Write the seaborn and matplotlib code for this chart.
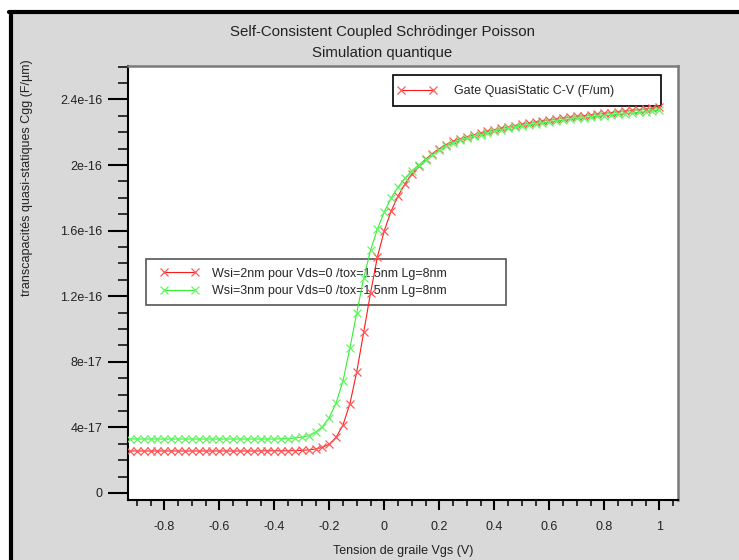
import numpy as np
import pandas as pd
import matplotlib
matplotlib.use("Agg")
import matplotlib.pyplot as plt
from matplotlib.patches import Rectangle
from matplotlib.lines import Line2D
from matplotlib.ticker import FixedLocator, FixedFormatter, MultipleLocator
import seaborn as sns

# Gate voltage sweep (V)
vgs = [-0.925, -0.9, -0.875, -0.85, -0.825, -0.8, -0.775, -0.75, -0.725, -0.7,
       -0.675, -0.65, -0.625, -0.6, -0.575, -0.55, -0.525, -0.5, -0.475, -0.45,
       -0.425, -0.4, -0.375, -0.35, -0.325, -0.3, -0.275, -0.25, -0.225, -0.2,
       -0.175, -0.15, -0.125, -0.1, -0.075, -0.05, -0.025, 0.0, 0.025, 0.05,
       0.075, 0.1, 0.125, 0.15, 0.175, 0.2, 0.225, 0.25, 0.275, 0.3,
       0.325, 0.35, 0.375, 0.4, 0.425, 0.45, 0.475, 0.5, 0.525, 0.55,
       0.575, 0.6, 0.625, 0.65, 0.675, 0.7, 0.725, 0.75, 0.775, 0.8,
       0.825, 0.85, 0.875, 0.9, 0.925, 0.95, 0.975, 1.0]

# Quasi-static gate capacitance Cgg, in units of 1e-17 F/um
cgg_wsi2 = [2.56, 2.56, 2.56, 2.56, 2.56, 2.56, 2.56, 2.56, 2.56, 2.56,
            2.56, 2.56, 2.56, 2.56, 2.56, 2.56, 2.56, 2.56, 2.56, 2.56,
            2.57, 2.57, 2.57, 2.57, 2.58, 2.60, 2.63, 2.68, 2.78, 2.98,
            3.40, 4.15, 5.45, 7.40, 9.80, 12.2, 14.4, 16.0, 17.2, 18.1,
            18.85, 19.45, 19.95, 20.35, 20.7, 21.0, 21.25, 21.45, 21.6, 21.72,
            21.84, 21.95, 22.05, 22.15, 22.24, 22.33, 22.41, 22.48, 22.55, 22.62,
            22.68, 22.74, 22.8, 22.86, 22.91, 22.96, 23.01, 23.06, 23.11, 23.16,
            23.2, 23.25, 23.29, 23.33, 23.38, 23.42, 23.46, 23.52]

cgg_wsi3 = [3.29, 3.29, 3.29, 3.29, 3.29, 3.29, 3.29, 3.29, 3.29, 3.29,
            3.29, 3.29, 3.29, 3.29, 3.29, 3.29, 3.29, 3.29, 3.29, 3.29,
            3.29, 3.29, 3.30, 3.32, 3.35, 3.40, 3.50, 3.70, 4.05, 4.60,
            5.50, 6.85, 8.85, 11.0, 13.1, 14.8, 16.1, 17.15, 18.0, 18.65,
            19.2, 19.65, 20.0, 20.32, 20.62, 20.9, 21.15, 21.35, 21.5, 21.63,
            21.75, 21.86, 21.96, 22.06, 22.15, 22.23, 22.31, 22.38, 22.45, 22.51,
            22.57, 22.63, 22.69, 22.74, 22.79, 22.84, 22.88, 22.93, 22.97, 23.01,
            23.05, 23.09, 23.13, 23.17, 23.21, 23.25, 23.3, 23.35]

series_labels = ["Wsi=2nm pour Vds=0 /tox=1.5nm Lg=8nm",
                 "Wsi=3nm pour Vds=0 /tox=1.5nm Lg=8nm"]
series_colors = ["#ff1a1a", "#33ee33"]
marker_colors = ["#ff5a5a", "#66f566"]

x_ticks = [-0.8, -0.6, -0.4, -0.2, 0.0, 0.2, 0.4, 0.6, 0.8, 1.0]
x_tick_labels = ["-0.8", "-0.6", "-0.4", "-0.2", "0", "0.2", "0.4", "0.6", "0.8", "1"]
y_ticks = [0.0, 4e-17, 8e-17, 1.2e-16, 1.6e-16, 2e-16, 2.4e-16]
y_tick_labels = ["0", "4e-17", "8e-17", "1.2e-16", "1.6e-16", "2e-16", "2.4e-16"]

df = pd.DataFrame({
    "Vgs": vgs * 2,
    "Cgg": [v * 1e-17 for v in cgg_wsi2 + cgg_wsi3],
    "serie": [series_labels[0]] * len(vgs) + [series_labels[1]] * len(vgs),
})

sns.set_style("ticks")
plt.rcParams["font.family"] = ["Liberation Sans", "DejaVu Sans"]

W, H = 739, 560
fig = plt.figure(figsize=(W / 100, H / 100), dpi=100, facecolor="white")


def fx(px):
    return px / W


def fy(py):
    return 1 - py / H


# window background and its dark frame
fig.patches.append(Rectangle((fx(11), 0), 1 - fx(11), fy(12), transform=fig.transFigure,
                             facecolor="#d9d9d9", edgecolor="none", zorder=-5))
fig.lines.append(Line2D([fx(11), fx(11)], [0, fy(12)], transform=fig.transFigure,
                        color="black", lw=3.0, zorder=-4))
fig.lines.append(Line2D([fx(9), 1], [fy(12), fy(12)], transform=fig.transFigure,
                        color="black", lw=3.0, zorder=-4))

ax = fig.add_axes([fx(128), fy(500), fx(678) - fx(128), fy(66) - fy(500)])
ax.set_facecolor("white")

for i, lab in enumerate(series_labels):
    sub = df[df["serie"] == lab]
    sns.lineplot(data=sub, x="Vgs", y="Cgg", ax=ax, color=series_colors[i],
                 marker="x", markersize=6, markeredgewidth=0.9,
                 markeredgecolor=marker_colors[i], linewidth=0.8,
                 label=lab, legend=False, zorder=3)

ax.set_xlim(-0.932, 1.068)
ax.set_ylim(-0.43e-17, 2.604e-16)

ax.xaxis.set_major_locator(FixedLocator(x_ticks))
ax.xaxis.set_major_formatter(FixedFormatter(x_tick_labels))
ax.xaxis.set_minor_locator(MultipleLocator(0.05))
ax.yaxis.set_major_locator(FixedLocator(y_ticks))
ax.yaxis.set_major_formatter(FixedFormatter(y_tick_labels))
ax.yaxis.set_minor_locator(MultipleLocator(1e-17))

ax.tick_params(axis="x", which="major", direction="out", length=7.2, width=1.5,
               color="black", pad=8, labelsize=9, labelcolor="#222222")
ax.tick_params(axis="x", which="minor", direction="out", length=4.3, width=1.1,
               color="black")
ax.tick_params(axis="y", which="major", direction="out", length=14.4, width=1.5,
               color="black", pad=4, labelsize=9, labelcolor="#222222")
ax.tick_params(axis="y", which="minor", direction="out", length=7.2, width=1.1,
               color="black")
for t in ax.yaxis.get_minor_ticks():
    if t.get_loc() > 2.45e-16:
        t.tick1line.set_color("#808080")

ax.set_xlabel("")
ax.set_ylabel("")
for s in ["left", "bottom"]:
    ax.spines[s].set_color("black")
    ax.spines[s].set_linewidth(1.5)
for s in ["top", "right"]:
    ax.spines[s].set_color("#7a7a7a")
    ax.spines[s].set_linewidth(1.8)

lines = ax.get_lines()

# first legend: quantity plotted
leg1 = ax.legend([lines[0]], ["Gate QuasiStatic C-V (F/um)"], loc="center left",
                 bbox_to_anchor=(fx(397), fy(91)), bbox_transform=fig.transFigure,
                 frameon=False, fontsize=9, borderpad=0, borderaxespad=0,
                 handlelength=3.2, handletextpad=1.35, numpoints=2)
leg1.set_zorder(1)
ax.add_artist(leg1)
ax.add_patch(Rectangle((fx(393), fy(106)), fx(661) - fx(393), fy(75) - fy(106),
                       transform=fig.transFigure, facecolor="none",
                       edgecolor="black", lw=1.2, zorder=1))

# second legend: device parameters
leg2 = ax.legend(lines[:2], series_labels, loc="center left",
                 bbox_to_anchor=(fx(160), fy(282.5)), bbox_transform=fig.transFigure,
                 frameon=False, fontsize=9, borderpad=0, borderaxespad=0,
                 handlelength=3.1, handletextpad=1.1, labelspacing=0.45, numpoints=2)
leg2.set_zorder(1)
ax.add_patch(Rectangle((fx(146), fy(305)), fx(506) - fx(146), fy(259) - fy(305),
                       transform=fig.transFigure, facecolor="none",
                       edgecolor="#555555", lw=1.2, zorder=1))

fig.text(fx(382), fy(32), "Self-Consistent Coupled Schrödinger Poisson",
         ha="center", va="center", fontsize=10.8, color="#222222")
fig.text(fx(382), fy(53), "Simulation quantique",
         ha="center", va="center", fontsize=10.8, color="#222222")
fig.text(fx(403), fy(551), "Tension de graile Vgs (V)",
         ha="center", va="center", fontsize=9, color="#222222")
fig.text(fx(27), fy(178), "transcapacités quasi-statiques Cgg (F/µm)",
         ha="center", va="center", rotation=90, fontsize=9, color="#222222")

fig.savefig("out.png", dpi=100, facecolor="white")
